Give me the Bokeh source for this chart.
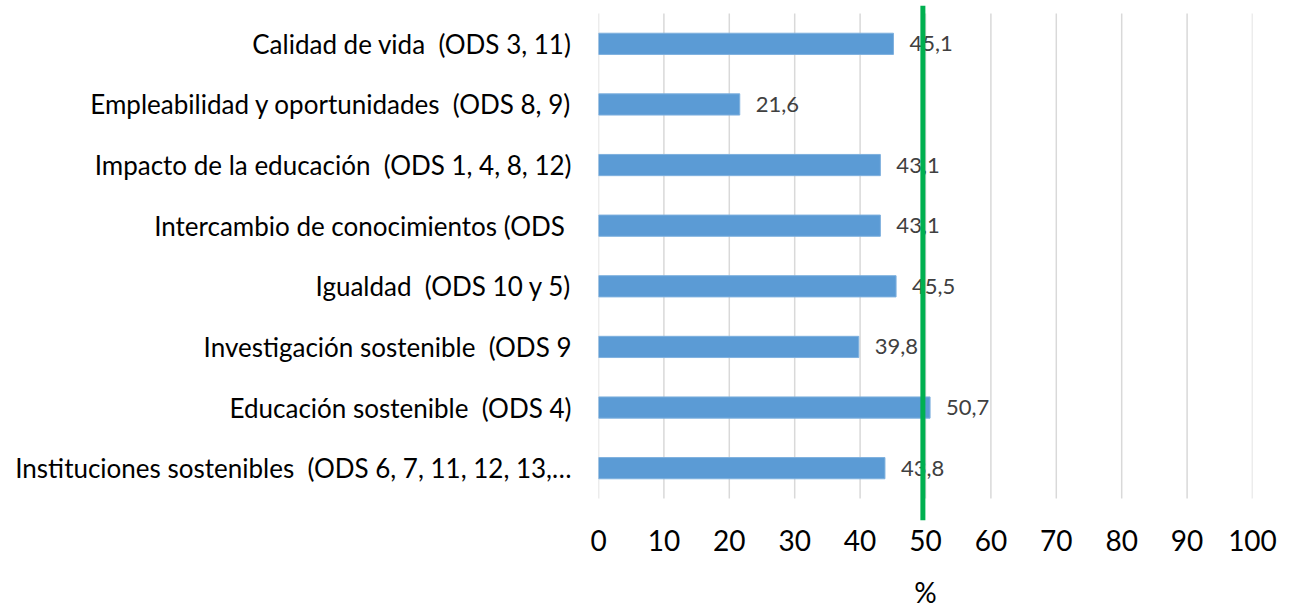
from bokeh.plotting import figure
from bokeh.models import Range1d, FixedTicker, ColumnDataSource, Span
from bokeh.core.properties import value
from bokeh.embed import file_html
from bokeh.resources import INLINE

# ---- data (bottom to top) ----
categories = [
    "Instituciones sostenibles \u00a0(ODS 6, 7, 11, 12, 13,…",
    "Educación sostenible \u00a0(ODS 4)",
    "Investigación sostenible \u00a0(ODS 9",
    "Igualdad \u00a0(ODS 10 y 5)",
    "Intercambio de conocimientos (ODS\u00a0",
    "Impacto de la educación \u00a0(ODS 1, 4, 8, 12)",
    "Empleabilidad y oportunidades \u00a0(ODS 8, 9)",
    "Calidad de vida \u00a0(ODS 3, 11)",
]
values = [43.8, 50.7, 39.8, 45.5, 43.1, 43.1, 21.6, 45.1]
x_ticks = [0, 10, 20, 30, 40, 50, 60, 70, 80, 90, 100]
threshold = 49.6
x_label = "%"

FONT = "Lato"

pos = [i + 0.5 for i in range(len(categories))]
labels = [f"{v:.1f}".replace(".", ",") for v in values]
src = ColumnDataSource(dict(y=pos, v=values, lab=labels, cat=categories))

p = figure(
    width=1294, height=613,
    x_range=Range1d(0, 100),
    y_range=Range1d(-0.363, len(categories) + 0.132),
    output_backend="svg", toolbar_location=None,
    min_border_left=598, min_border_right=42,
    min_border_top=5, min_border_bottom=93,
)
p.outline_line_color = None
p.background_fill_color = "white"
p.border_fill_color = "white"
p.xgrid.visible = False
p.ygrid.visible = False

# vertical gridlines spanning the category rows
gsrc = ColumnDataSource(dict(x=x_ticks, y0=[0] * len(x_ticks), y1=[len(categories)] * len(x_ticks)))
p.segment(x0="x", x1="x", y0="y0", y1="y1", source=gsrc, line_color="#D9D9D9", line_width=1.5)

p.hbar(y="y", right="v", left=0, height=0.35, source=src,
       fill_color="#5B9BD5", line_color="#7EB0DE", line_width=1)

p.text(x="v", y="y", text="lab", source=src, x_offset=16,
       text_align="left", text_baseline="middle",
       text_font=value(FONT), text_font_size="22px", text_color="#404040")

p.add_layout(Span(location=threshold, dimension="height",
                  line_color="#00B050", line_width=5))

# axes
p.xaxis.ticker = FixedTicker(ticks=x_ticks)
p.xaxis.axis_line_color = None
p.xaxis.major_tick_line_color = None
p.xaxis.minor_tick_line_color = None
p.xaxis.major_tick_out = 0
p.xaxis.major_label_standoff = 9
p.xaxis.major_label_text_font = FONT
p.xaxis.major_label_text_font_size = "28px"
p.xaxis.major_label_text_color = "#000000"
p.xaxis.axis_label = x_label
p.xaxis.axis_label_text_font = FONT
p.xaxis.axis_label_text_font_size = "28px"
p.xaxis.axis_label_text_font_style = "normal"
p.xaxis.axis_label_text_color = "#000000"
p.xaxis.axis_label_standoff = 21

p.yaxis.ticker = FixedTicker(ticks=pos)
p.yaxis.major_label_overrides = {y: c for y, c in zip(pos, categories)}
p.yaxis.axis_line_color = None
p.yaxis.major_tick_line_color = None
p.yaxis.minor_tick_line_color = None
p.yaxis.major_tick_out = 0
p.yaxis.major_label_standoff = 27
p.yaxis.major_label_text_font = FONT
p.yaxis.major_label_text_font_size = "26px"
p.yaxis.major_label_text_color = "#000000"

open("out.html", "w").write(file_html(p, INLINE))
